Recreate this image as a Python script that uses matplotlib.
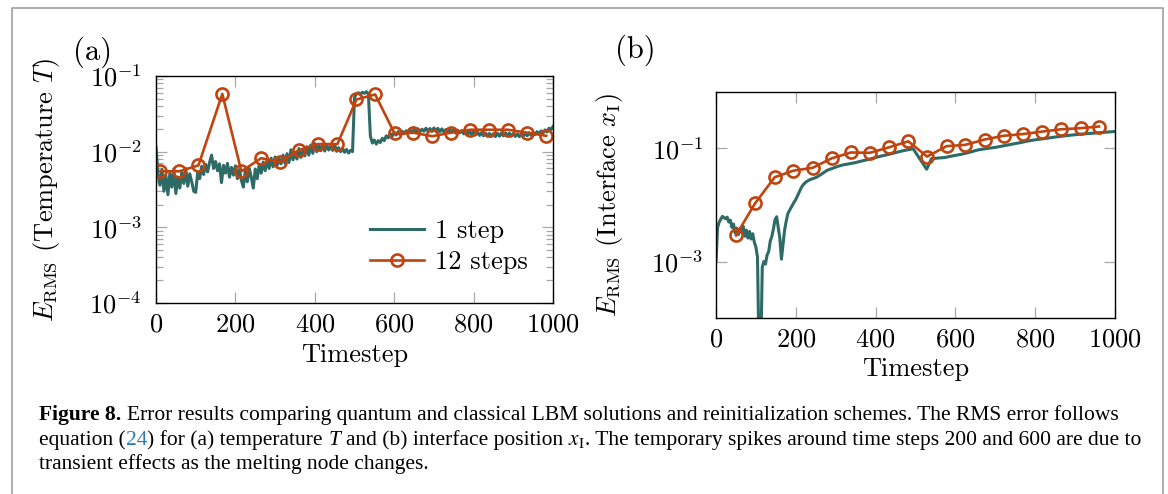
import numpy as np
import matplotlib
matplotlib.use("Agg")
import matplotlib.pyplot as plt
from matplotlib.lines import Line2D
from matplotlib.ticker import LogLocator, NullLocator, NullFormatter, FixedLocator
from matplotlib.transforms import IdentityTransform

plt.rcParams['font.family'] = 'serif'
plt.rcParams['font.serif'] = ['cmr10']
plt.rcParams['mathtext.fontset'] = 'cm'
plt.rcParams['axes.formatter.use_mathtext'] = True

W, H = 1168, 494
TEAL = '#2e6b67'
ORANGE = '#c0440f'
TICK_GRAY = '#a8a8a8'

# ---- (a) temperature error ----
# 1 step, one value every 5 timesteps (0..1000), units of 1e-3
temp_1step = [
    11.5, 5.0, 3.6, 5.8, 3.0, 4.8, 2.7, 5.2, 3.4, 5.9,
    2.8, 4.6, 3.3, 5.4, 3.8, 6.0, 3.5, 5.1, 4.0, 3.0,
    2.9, 5.3, 4.4, 6.4, 5.0, 6.8, 5.4, 7.2, 9.0, 6.0,
    7.4, 5.6, 6.9, 3.9, 6.6, 5.2, 7.0, 4.6, 6.2, 4.9,
    6.5, 4.4, 5.8, 4.2, 3.4, 5.6, 4.0, 6.0, 4.6, 3.3,
    5.9, 4.4, 6.8, 5.2, 7.3, 5.6, 7.8, 6.0, 8.2, 6.3,
    8.5, 6.6, 8.0, 6.9, 9.0, 7.0, 9.4, 7.2, 10.6, 7.8,
    9.8, 8.0, 11.0, 8.4, 10.2, 8.8, 11.6, 9.0, 12.2, 9.5,
    12.8, 10.0, 11.9, 10.3, 12.6, 10.2, 12.3, 10.5, 11.8, 10.4,
    12.4, 10.1, 11.3, 10.0, 11.0, 9.8, 10.7, 9.6, 10.4, 10.0,
    52.0, 58.0, 60.0, 57.5, 61.0, 59.0, 62.0, 58.0, 16.0, 13.0,
    14.2, 12.6, 14.0, 13.2, 15.0, 14.0, 16.2, 15.2, 17.4, 16.0,
    18.0, 16.6, 18.4, 16.8, 18.6, 17.2, 18.9, 17.4, 19.4, 17.8,
    19.6, 18.0, 20.0, 18.3, 19.8, 18.6, 20.4, 18.8, 20.2, 18.5,
    20.6, 18.9, 20.3, 18.4, 20.0, 18.2, 19.6, 17.9, 19.8, 18.0,
    19.4, 17.6, 19.2, 17.8, 19.0, 17.2, 18.8, 17.0, 18.6, 16.8,
    18.4, 16.6, 18.2, 16.4, 17.9, 16.2, 17.6, 16.0, 17.4, 15.9,
    17.3, 15.8, 17.5, 16.0, 17.6, 16.2, 17.8, 16.3, 17.6, 16.0,
    17.4, 15.9, 17.2, 15.8, 17.3, 16.0, 17.6, 16.2, 17.8, 16.4,
    18.0, 16.8, 18.4, 17.2, 18.8, 17.6, 19.4, 18.2, 20.4, 19.6,
    21.5,
]
temp_1step_t = np.linspace(0, 1000, len(temp_1step))

# 12 steps
temp_12_t = [11, 59, 107, 167, 215, 265, 312, 360, 408, 457, 505,
             552, 601, 648, 696, 744, 792, 839, 886, 935, 983]
temp_12 = [5.5, 5.5, 6.6, 58, 5.5, 8.2, 7.3, 10.5, 12.6, 12.6, 49,
           57, 17.4, 17.8, 16.0, 17.9, 19.5, 19.5, 19.5, 17.8, 16.2]

# ---- (b) interface error ----
iface_1step_t = [0, 4, 8, 12, 16, 20, 24, 28, 32, 36, 40, 44, 48, 52, 56, 60,
                 64, 68, 72, 76, 80, 84, 88, 92, 96, 100, 104, 107, 110, 113,
                 116, 120, 124, 128, 132, 136, 140, 144, 148, 152, 156, 160,
                 164, 168, 172, 176, 180, 185, 190, 195, 200, 207, 214, 220,
                 227, 235, 244, 252, 261, 270, 278, 290, 304, 317, 330, 348,
                 365, 382, 399, 416, 434, 451, 468, 481, 494, 528, 540, 559,
                 572, 593, 615, 636, 658, 680, 701, 722, 744, 765, 787, 808,
                 830, 851, 873, 895, 916, 938, 959, 980, 1000]
iface_1step = [1.0, 4.0, 5.0, 5.6, 6.3, 6.0, 5.7, 6.1, 5.0, 5.4, 4.0, 4.6,
               3.2, 3.9, 3.0, 3.8, 3.3, 4.2, 2.8, 3.6, 2.6, 3.4, 2.5, 3.1,
               2.2, 1.8, 1.2, 0.05, 0.02, 0.05, 0.8, 1.0, 0.9, 1.3, 1.5, 2.3,
               2.8, 3.8, 5.5, 6.2, 4.0, 2.6, 1.1, 2.0, 3.6, 5.2, 7.0, 8.2,
               9.5, 11.0, 12.5, 16.0, 20.5, 23.5, 26.0, 28.0, 29.5, 31.0,
               34.0, 37.5, 41.0, 44.0, 48.0, 51.0, 53.0, 56.0, 60.0, 64.0,
               69.0, 74.0, 79.0, 85.0, 91.0, 95.0, 99.0, 43.0, 66.0, 68.0,
               69.0, 74.0, 79.0, 86.0, 95.0, 100.0, 105.0, 112.0, 120.0,
               128.0, 138.0, 145.0, 152.0, 160.0, 167.0, 174.0, 180.0, 185.0,
               190.0, 195.0, 200.0]

iface_12_t = [50, 98, 147, 194, 242, 290, 338, 386, 434, 482,
              529, 578, 625, 673, 721, 769, 817, 865, 914, 960]
iface_12 = [2.9, 10.7, 31, 40.5, 45.5, 67, 85, 84, 105, 134,
            72, 110, 116, 144, 168, 180, 199, 219, 229, 245]

xticks = [0, 200, 400, 600, 800, 1000]
FS = 19

fig = plt.figure(figsize=(W / 100, H / 100), dpi=100)
ax_a = fig.add_axes([156 / W, 1 - 303 / H, 397 / W, 227 / H])
ax_b = fig.add_axes([716 / W, 1 - 318 / H, 399 / W, 226 / H])


def style(ax):
    ax.set_yscale('log')
    ax.set_xlim(0, 1000)
    ax.set_xticks(xticks)
    ax.tick_params(which='both', direction='in', top=True, right=True,
                   color=TICK_GRAY, labelsize=FS)
    ax.tick_params(which='major', length=8, width=0.9)
    ax.tick_params(which='minor', length=5, width=0.9)
    ax.tick_params(axis='x', pad=7)
    for s in ax.spines.values():
        s.set_linewidth(1.0)


line_1 = dict(color=TEAL, lw=2.2)
line_12 = dict(color=ORANGE, lw=1.9, marker='o', ms=8.7, mfc='none', mew=1.9)

# (a)
style(ax_a)
ax_a.plot(temp_1step_t, np.array(temp_1step) * 1e-3, label='1 step', **line_1)
ax_a.plot(temp_12_t, np.array(temp_12) * 1e-3, label='12 steps', **line_12)
ax_a.set_ylim(1e-4, 1e-1)
ax_a.yaxis.set_major_locator(FixedLocator([1e-4, 1e-3, 1e-2, 1e-1]))
ax_a.yaxis.set_minor_locator(LogLocator(base=10, subs=np.arange(2, 10)))
ax_a.yaxis.set_minor_formatter(NullFormatter())
ax_a.tick_params(axis='y', pad=10)
ax_a.set_xlabel('Timestep', fontsize=FS)
ax_a.xaxis.set_label_coords(0.5, -0.176)
ax_a.set_ylabel(r'$E_{\mathrm{RMS}}$ (Temperature $T$)', fontsize=FS)
ax_a.yaxis.set_label_coords(-0.237, 0.5)
ax_a.legend(loc='upper left', bbox_to_anchor=(0.54, 0.37), frameon=False,
            fontsize=FS, handlelength=2.05, handletextpad=0.4, borderpad=0,
            borderaxespad=0, labelspacing=0.3)

# (b)
style(ax_b)
ax_b.plot(iface_1step_t, np.array(iface_1step) * 1e-3, **line_1)
ax_b.plot(iface_12_t, np.array(iface_12) * 1e-3, **line_12)
ax_b.set_ylim(1e-4, 1)
ax_b.yaxis.set_major_locator(FixedLocator([1e-3, 1e-1]))
ax_b.yaxis.set_minor_locator(NullLocator())
ax_b.tick_params(axis='y', pad=9)
ax_b.set_xlabel('Timestep', fontsize=FS)
ax_b.xaxis.set_label_coords(0.5, -0.173)
ax_b.set_ylabel(r'$E_{\mathrm{RMS}}$ (Interface $x_{\mathrm{I}}$)', fontsize=FS)
ax_b.yaxis.set_label_coords(-0.228, 0.5)

fig.text(93 / W, 1 - 52 / H, '(a)', fontsize=22, ha='center', va='center')
fig.text(635 / W, 1 - 50 / H, '(b)', fontsize=22, ha='center', va='center')

# frame around the figure
fig.add_artist(Line2D([11.5, 11.5, 1162.5, 1162.5], [-5, 486, 486, -5],
                      transform=IdentityTransform(), color='#a0a0a0', lw=1.2))

# caption, written run by run
CAP_FS = 15.5
CAP_FAMILY = 'Liberation Serif'
renderer = fig.canvas.get_renderer()
space = CAP_FS * 100 / 72 * 0.25


def caption_line(y_base, runs):
    x = 39
    for text, kw, gap in runs:
        t = fig.text(x, H - y_base, text, transform=IdentityTransform(),
                     fontsize=CAP_FS, family=CAP_FAMILY, ha='left',
                     va='baseline', **kw)
        x += t.get_window_extent(renderer).width + gap


caption_line(420, [
    ('Figure 8.', {'weight': 'bold'}, space),
    ('Error results comparing quantum and classical LBM solutions and '
     'reinitialization schemes. The RMS error follows', {}, 0),
])
caption_line(444.5, [
    ('equation (', {}, 0),
    ('24', {'color': '#2b7bb9'}, 0),
    (') for (a) temperature', {}, space),
    ('T', {'style': 'italic'}, space),
    ('and (b) interface position', {}, space),
    (r'$x_{\mathrm{I}}$', {'math_fontfamily': 'stix'}, 0),
    ('. The temporary spikes around time steps 200 and 600 are due to', {}, 0),
])
caption_line(468.5, [
    ('transient effects as the melting node changes.', {}, 0),
])

fig.savefig('out.png', dpi=100)
